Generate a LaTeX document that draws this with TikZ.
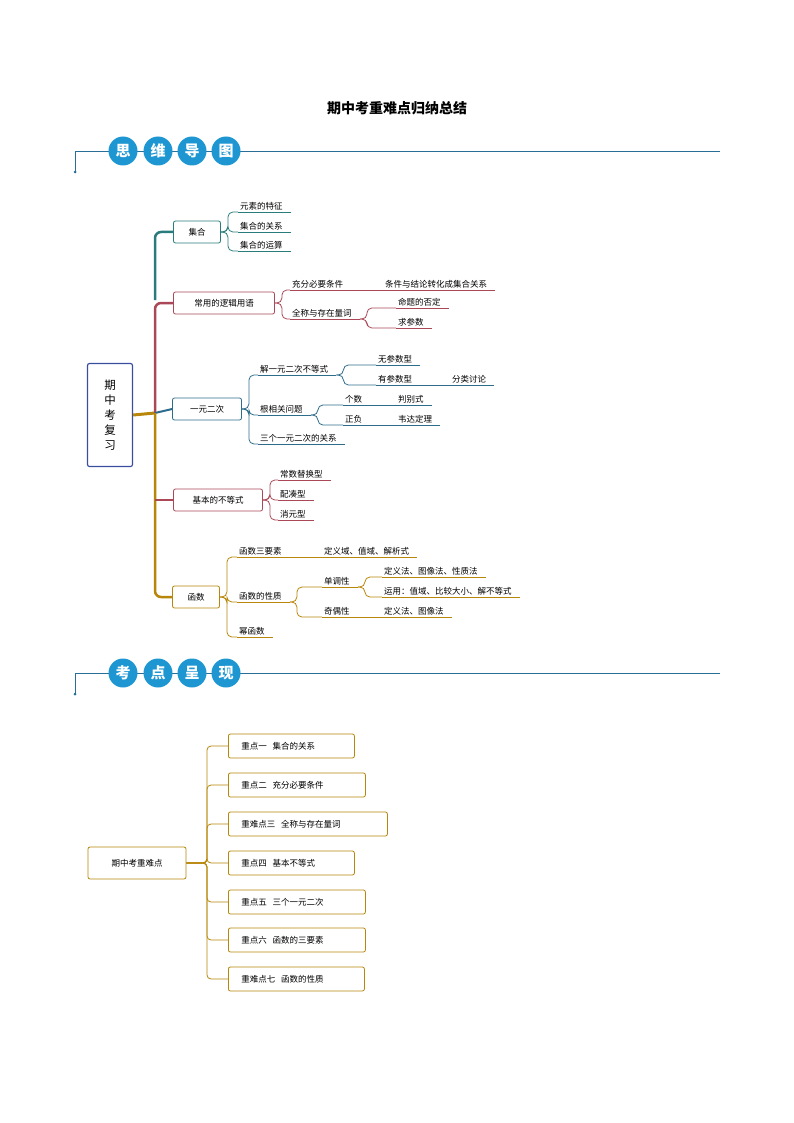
\documentclass[tikz,border=0pt]{standalone}
\usepackage{fontspec}
\newfontfamily\cjk{Noto Sans CJK SC}
\usetikzlibrary{positioning}
\definecolor{cteal}{RGB}{42,124,124}
\definecolor{crose}{RGB}{170,72,88}
\definecolor{cblue}{RGB}{46,108,140}
\definecolor{cgold}{RGB}{184,134,11}
\definecolor{chead}{RGB}{30,150,210}
\definecolor{cline}{RGB}{40,110,150}
\definecolor{cmain}{RGB}{58,78,160}
\tikzset{
  box/.style={draw=#1, rounded corners=2pt, thick, fill=white, inner sep=0pt, minimum height=22pt, font=\cjk\fontsize{8.5}{10}\selectfont},
  leaf/.style={anchor=south west, inner sep=2pt, font=\cjk\fontsize{8.5}{10}\selectfont,
    append after command={(\tikzlastnode.south west) edge[draw=#1, thick] ([xshift=6pt]\tikzlastnode.south east)}},
  branch/.style={draw=#1, thick, rounded corners=5pt, to path={(\tikztostart) -- ++(7pt,0) |- (\tikztotarget)}},
  tbox/.style={draw=cgold, thick, rounded corners=2pt, anchor=west, inner xsep=13pt, inner ysep=0pt, minimum height=24pt, align=left, font=\cjk\fontsize{8.5}{10}\selectfont},
  hcirc/.style={circle, fill=chead, text=white, minimum size=29pt, inner sep=0pt, font=\cjk\bfseries\fontsize{15}{15}\selectfont}
}
\newcommand\secthead[5]{%
  \draw[cline, thick] (720,#1) -- (75,#1) -- (75,#1+21);
  \fill[cline] (75,#1+21) circle (1.5pt);
  \node[hcirc] at (123,#1) {#2};
  \node[hcirc] at (158,#1) {#3};
  \node[hcirc] at (192,#1) {#4};
  \node[hcirc] at (226,#1) {#5};
}
\begin{document}
\begin{tikzpicture}[x=1pt, y=-1pt]
\useasboundingbox (0,0) rectangle (794,1123);

% TITLE
\node[font=\cjk\bfseries\fontsize{14}{16}\selectfont] (title) at (397,108) {期中考重难点归纳总结};

% HEADERS
\secthead{151}{思}{维}{导}{图}
\secthead{673}{考}{点}{呈}{现}

% MAIN BOX
\node[draw=cmain, very thick, rounded corners=2pt, minimum width=45pt, minimum height=103pt, align=center,
  font=\cjk\fontsize{11.5}{15}\selectfont] (main) at (110,415) {期\\中\\考\\复\\习};

% FIRST LEVEL
\node[box=cteal, minimum width=47pt] (jihe) at (197,232) {集合};
\node[box=crose, minimum width=101pt] (luoji) at (224,303) {常用的逻辑用语};
\node[box=cblue, minimum width=69pt] (erci) at (207,409) {一元二次};
\node[box=crose, minimum width=89pt] (budeng) at (218,500) {基本的不等式};
\node[box=cgold, minimum width=47pt] (hanshu) at (196,597) {函数};

% TRUNK
\coordinate (t) at (155,413);
\draw[cgold, line width=3pt] (main.east) -- (t);
\draw[cteal, line width=2.5pt, rounded corners=6pt] (155,300) |- (jihe.west);
\draw[crose, line width=2.5pt, rounded corners=6pt] (t) |- (luoji.west);
\draw[cblue, line width=2pt] (t) -- (erci.west);
\draw[cgold, line width=2.5pt, rounded corners=6pt] (t) |- (hanshu.west);
\draw[crose, line width=1.5pt] (155,500) -- (budeng.west);

% LEAVES
\node[leaf=cteal] (j1) at (238,212) {元素的特征};
\node[leaf=cteal] (j2) at (238,232) {集合的关系};
\node[leaf=cteal] (j3) at (238,251) {集合的运算};
\foreach \n in {j1,j2,j3} \draw[branch=cteal] (jihe.east) to (\n.south west);

\node[leaf=crose] (l1) at (290,290) {充分必要条件};
\node[leaf=crose] (l2) at (290,319) {全称与存在量词};
\node[leaf=crose] (l11) at (383,290) {条件与结论转化成集合关系};
\node[leaf=crose] (l21) at (396,308) {命题的否定};
\node[leaf=crose] (l22) at (396,328) {求参数};
\foreach \n in {l1,l2} \draw[branch=crose] (luoji.east) to (\n.south west);
\draw[crose, thick] (l1.south east) -- (l11.south west);
\foreach \n in {l21,l22} \draw[branch=crose] ([xshift=6pt]l2.south east) to (\n.south west);

\node[leaf=cblue] (e1) at (258,375) {解一元二次不等式};
\node[leaf=cblue] (e2) at (258,415) {根相关问题};
\node[leaf=cblue] (e3) at (258,444) {三个一元二次的关系};
\node[leaf=cblue] (e11) at (376,365) {无参数型};
\node[leaf=cblue] (e12) at (376,385) {有参数型};
\node[leaf=cblue] (e121) at (450,385) {分类讨论};
\node[leaf=cblue] (e21) at (343,405) {个数};
\node[leaf=cblue] (e22) at (343,425) {正负};
\node[leaf=cblue] (e211) at (396,405) {判别式};
\node[leaf=cblue] (e221) at (396,425) {韦达定理};
\foreach \n in {e1,e2,e3} \draw[branch=cblue] (erci.east) to (\n.south west);
\foreach \n in {e11,e12} \draw[branch=cblue] ([xshift=6pt]e1.south east) to (\n.south west);
\draw[cblue, thick] ([xshift=6pt]e12.south east) -- (e121.south west);
\foreach \n in {e21,e22} \draw[branch=cblue] ([xshift=6pt]e2.south east) to (\n.south west);
\draw[cblue, thick] ([xshift=6pt]e21.south east) -- (e211.south west);
\draw[cblue, thick] ([xshift=6pt]e22.south east) -- (e221.south west);

\node[leaf=crose] (b1) at (278,480) {常数替换型};
\node[leaf=crose] (b2) at (278,500) {配凑型};
\node[leaf=crose] (b3) at (278,520) {消元型};
\foreach \n in {b1,b2,b3} \draw[branch=crose] (budeng.east) to (\n.south west);

\node[leaf=cgold] (h1) at (237,557) {函数三要素};
\node[leaf=cgold] (h2) at (237,602) {函数的性质};
\node[leaf=cgold] (h3) at (237,637) {幂函数};
\node[leaf=cgold] (h11) at (322,557) {定义域、值域、解析式};
\node[leaf=cgold] (h21) at (322,587) {单调性};
\node[leaf=cgold] (h22) at (322,617) {奇偶性};
\node[leaf=cgold] (h211) at (382,577) {定义法、图像法、性质法};
\node[leaf=cgold] (h212) at (382,597) {运用：值域、比较大小、解不等式};
\node[leaf=cgold] (h221) at (382,617) {定义法、图像法};
\foreach \n in {h1,h2,h3} \draw[branch=cgold] (hanshu.east) to (\n.south west);
\draw[cgold, thick] ([xshift=6pt]h1.south east) -- (h11.south west);
\foreach \n in {h21,h22} \draw[branch=cgold] ([xshift=6pt]h2.south east) to (\n.south west);
\foreach \n in {h211,h212} \draw[branch=cgold] ([xshift=6pt]h21.south east) to (\n.south west);
\draw[cgold, thick] ([xshift=6pt]h22.south east) -- (h221.south west);

% KEY POINTS
\node[draw=cgold, thick, rounded corners=2pt, minimum width=98pt, minimum height=32pt,
  font=\cjk\fontsize{8.5}{10}\selectfont] (key) at (137,863) {期中考重难点};
\node[tbox, text width=100pt] (p1) at (228,746) {重点一\ \ 集合的关系};
\node[tbox, text width=111pt] (p2) at (228,785) {重点二\ \ 充分必要条件};
\node[tbox, text width=133pt] (p3) at (228,824) {重难点三\ \ 全称与存在量词};
\node[tbox, text width=100pt] (p4) at (228,863) {重点四\ \ 基本不等式};
\node[tbox, text width=111pt] (p5) at (228,902) {重点五\ \ 三个一元二次};
\node[tbox, text width=111pt] (p6) at (228,940) {重点六\ \ 函数的三要素};
\node[tbox, text width=110pt] (p7) at (228,979) {重难点七\ \ 函数的性质};
\foreach \n in {p1,p2,p3,p4,p5,p6,p7}
  \draw[cgold, thick, rounded corners=4pt] (key.east) -- (207,863) |- (\n.west);
\end{tikzpicture}
\end{document}
